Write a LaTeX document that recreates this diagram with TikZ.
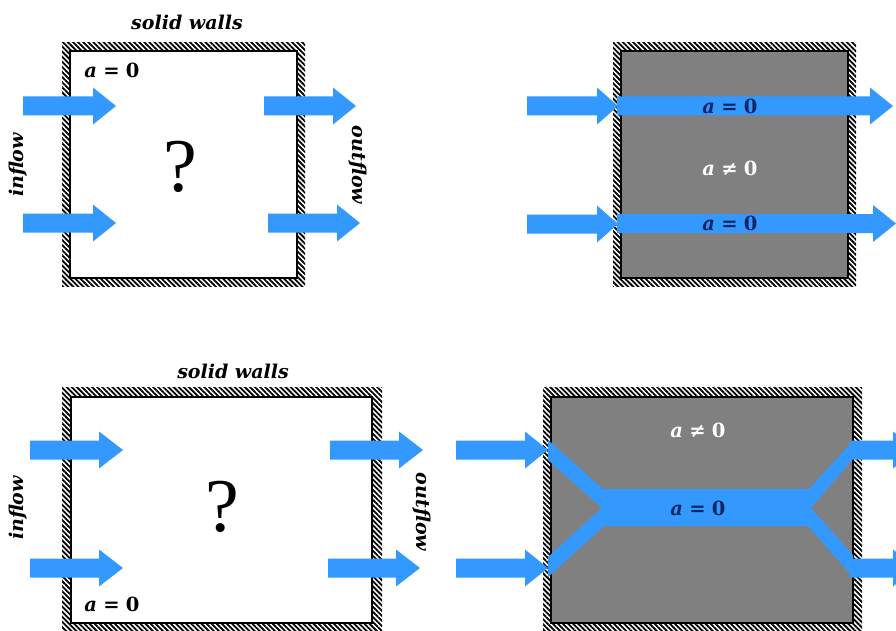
\RequirePackage{fix-cm}
\documentclass[tikz,border=0pt]{standalone}
\usepackage{fontspec}
\setmainfont{Liberation Serif}
\newfontfamily\lblfont{DejaVu Serif}
\usetikzlibrary{patterns.meta}
\definecolor{flowc}{RGB}{51,153,255}
\definecolor{navyc}{RGB}{12,38,100}
\definecolor{solidc}{RGB}{128,128,128}
\newcommand\flowarr[4]{\fill[flowc] (#1,#3-9.5) -- (#2-#4,#3-9.5) -- (#2-#4,#3-18.5) -- (#2,#3) -- (#2-#4,#3+18.5) -- (#2-#4,#3+9.5) -- (#1,#3+9.5) -- cycle;}
\newcommand\eqz{{\itshape a}\hspace{0.32em}=\hspace{0.32em}0}
\newcommand\neqz{{\itshape a}\hspace{0.32em}\char"2260\hspace{0.32em}0}
\tikzset{
  wall/.style={pattern={Lines[angle=-45,distance=3.6pt,line width=1.8pt]},pattern color=black},
  inner/.style={draw=black,line width=1.8pt},
  lbl/.style={font=\lblfont\bfseries\itshape\fontsize{19}{22}\selectfont,inner sep=0pt},
  eq/.style={font=\lblfont\bfseries\fontsize{19.5}{22}\selectfont,inner sep=0pt},
  qm/.style={font=\fontsize{76}{80}\selectfont,inner sep=0pt},
}
\begin{document}
\begin{tikzpicture}[x=1pt,y=-1pt]
\useasboundingbox (0,0) rectangle (896,631);
\clip (0,0) rectangle (896,631);
\fill[white] (0,0) rectangle (896,631);
% ---------- panel 1 ----------
\fill[wall] (62,43) rectangle (305,286);
\filldraw[fill=white,inner] (70,51) rectangle (297,278);
\flowarr{23}{116}{106}{23}
\flowarr{23}{116}{223}{23}
\flowarr{264}{356}{106}{23}
\flowarr{268}{360}{223}{23}
\node[lbl] (sw1) at (187,22) {solid walls};
\node[eq] (a1) at (112,70) {\eqz};
\node[qm] (q1) at (180,167) {?};
\node[lbl,rotate=90] (in1) at (18,165) {inflow};
\node[lbl,rotate=-90] (out1) at (358,165) {outflow};
% ---------- panel 2 ----------
\fill[wall] (613,43) rectangle (856,286);
\filldraw[fill=solidc,inner] (621,51) rectangle (848,278);
\flowarr{527}{618}{106}{21}
\flowarr{527}{618}{224}{21}
\flowarr{617}{893}{106}{23}
\flowarr{617}{896}{223.5}{23}
\node[eq,text=navyc] (a2) at (730,106) {\eqz};
\node[eq,text=white] (b2) at (730,168) {\neqz};
\node[eq,text=navyc] (c2) at (730,223) {\eqz};
% ---------- panel 3 ----------
\fill[wall] (62,387) rectangle (382,635);
\filldraw[fill=white,inner] (71,397) rectangle (372,623);
\flowarr{30}{123}{450}{24}
\flowarr{30}{123}{568}{24}
\flowarr{330}{423}{450}{24}
\flowarr{328}{420}{568}{24}
\node[lbl] (sw3) at (233,371) {solid walls};
\node[eq] (a3) at (112,604) {\eqz};
\node[qm] (q3) at (222,507) {?};
\node[lbl,rotate=90] (in3) at (18,508) {inflow};
\node[lbl,rotate=-90] (out3) at (422,512) {outflow};
% ---------- panel 4 ----------
\fill[wall] (543,387) rectangle (862,635);
\filldraw[fill=solidc,inner] (551,397) rectangle (853,623);
\flowarr{456}{548}{450}{23}
\flowarr{456}{548}{568}{23}
\flowarr{850}{916}{450}{23}
\flowarr{850}{916}{568}{23}
\fill[flowc] (548,440) -- (603,489) -- (809,489) -- (853,441) -- (853,459)
  -- (811,508) -- (853,555) -- (853,577) -- (808,526) -- (604,526)
  -- (548,577) -- (548,557) -- (602,508) -- (548,460) -- cycle;
\node[eq,text=white] (b4) at (698,430) {\neqz};
\node[eq,text=navyc] (a4) at (698,508) {\eqz};
\end{tikzpicture}
\end{document}
